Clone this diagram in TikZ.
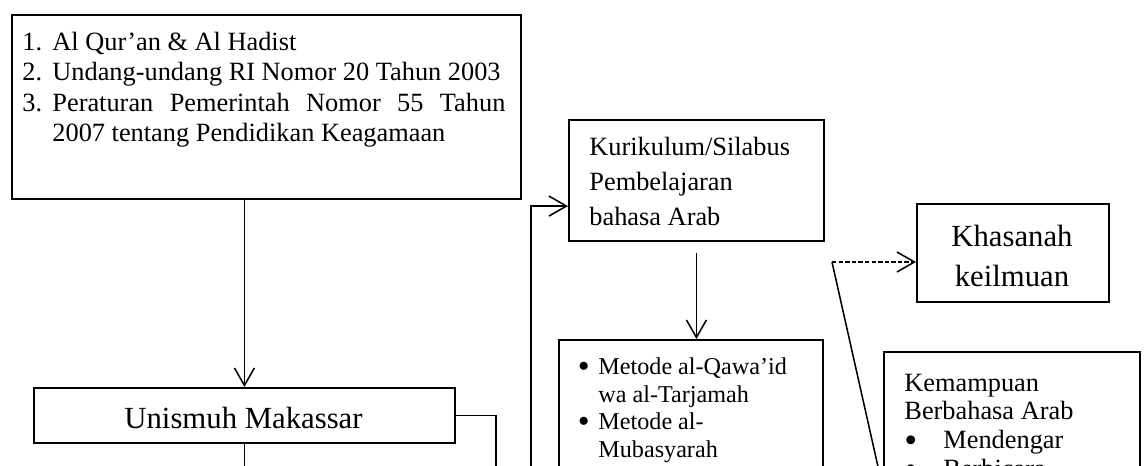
\documentclass[tikz,border=0pt]{standalone}
\usepackage{fontspec}
\setmainfont{Liberation Serif}
\usepackage{graphicx}
\usepackage{tikz}
\usetikzlibrary{scopes,arrows.meta}

% numbered and bulleted lines inside the boxes
\newcommand{\bulat}{\raisebox{-0.12em}{\scalebox{1.4}{\textbullet}}}
\newcommand{\nomor}[2]{\hangindent=0.48cm\hangafter=1\noindent\makebox[0.48cm][l]{#1}#2\par}
\newcommand{\poin}[2]{\hangindent=#1\hangafter=1\noindent\makebox[#1][l]{\bulat}#2\par}

\begin{document}
\begin{tikzpicture}[x=0.016cm, y=-0.016cm,
      kotak/.style={draw=black, line width=0.9pt, anchor=north west, inner sep=0pt},
      teks/.style={anchor=base west, inner sep=0pt},
      garis/.style={line width=0.7pt},
      panah/.style={garis, ->, >={Straight Barb[length=0.28cm,width=0.32cm]}},
      putus/.style={dash pattern=on 2pt off 1pt}
]
      \useasboundingbox (0,0) rectangle (1144,466);
      \clip (0,0) rectangle (1144,466);

      % boxes
      \node[kotak, minimum width=8.144cm, minimum height=2.944cm] at (11,14) (dasar) {};
      \node[kotak, minimum width=6.736cm, minimum height=0.88cm] at (33,387) (unismuh) {};
      \node[kotak, minimum width=4.08cm, minimum height=1.936cm] at (568,119) (kurikulum) {};
      \node[kotak, minimum width=4.224cm, minimum height=3.2cm] at (558,339) (metode) {};
      \node[kotak, minimum width=3.072cm, minimum height=1.568cm] at (916,203) (khasanah) {};
      \node[kotak, minimum width=4.096cm, minimum height=4.384cm] at (883,351) (kemampuan) {};

      % texts
      \node[teks, font=\fontsize{12}{13.9}\selectfont] at (22,50) (tdasar) {\parbox[t]{7.73cm}{%
            \nomor{1.}{Al Qur'an \& Al Hadist}
            \nomor{2.}{Undang-undang RI Nomor 20 Tahun 2003}
            \nomor{3.}{Peraturan Pemerintah Nomor 55 Tahun\linebreak 2007 tentang Pendidikan Keagamaan}}};
      \node[teks, anchor=base, font=\fontsize{14}{16}\selectfont] at (243.5,428) (tunismuh) {Unismuh Makassar};
      \node[teks, font=\fontsize{12}{15.8}\selectfont] at (589,155.7) (tkurikulum) {\parbox[t]{3.9cm}{%
            Kurikulum/Silabus\\Pembelajaran\\bahasa Arab}};
      \node[teks, font=\fontsize{11}{12.66}\selectfont] at (577.5,374.3) (tmetode) {\parbox[t]{3.7cm}{%
            \poin{0.328cm}{Metode al-Qawa'id\\wa al-Tarjamah}
            \poin{0.328cm}{Metode al-\\Mubasyarah}}};
      \node[teks, anchor=base, font=\fontsize{14}{18.2}\selectfont] at (1012,246.7) (tkhasanah) {\parbox[t]{2.9cm}{%
            \centering Khasanah\\keilmuan}};
      \node[teks, font=\fontsize{12}{13.2}\selectfont] at (904,391) (tkemampuan) {\parbox[t]{3.8cm}{%
            Kemampuan\\Berbahasa Arab\par
            \poin{0.624cm}{Mendengar}
            \poin{0.624cm}{Berbicara}}};

      % free ends of the connectors
      \coordinate (bawah) at (0,520);
      \coordinate (kananU) at (496,520);
      \coordinate (kiriK) at (531,520);
      \coordinate (sudut) at (832,262);

      {[garis]
          \draw (unismuh.south) -- (unismuh.south |- bawah);
          \draw (unismuh.east) -| (kananU);
          \draw (sudut) -- (kemampuan.west);
      }
      {[panah]
          \draw (unismuh.north |- dasar.south) -- (unismuh.north);
          \draw (kiriK) |- ([yshift=-0.41cm]kurikulum.west);
          \draw ([yshift=-0.18cm]kurikulum.south) -- (kurikulum.south |- metode.north);
          \draw[putus] (sudut) -- (sudut -| khasanah.west);
      }
\end{tikzpicture}
\end{document}
